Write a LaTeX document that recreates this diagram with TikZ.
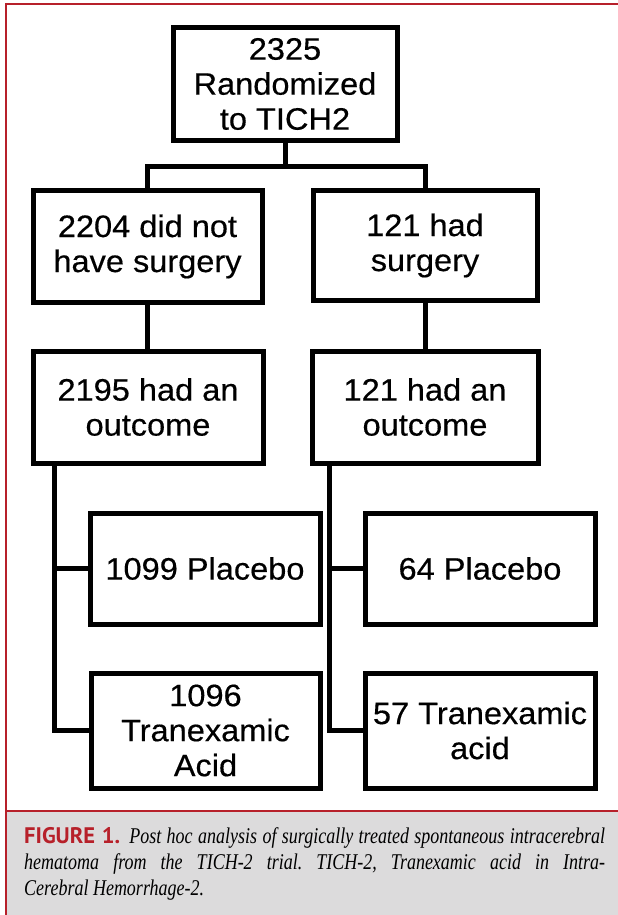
\documentclass[tikz,border=0pt]{standalone}
\usepackage{fontspec}
\setmainfont{Liberation Sans}
\newfontfamily\boxfont{Liberation Sans}[FakeStretch=1.05,FakeBold=0.4]
\newfontfamily\figfont{PT Sans}
\newfontfamily\capfont{Liberation Serif}[FakeStretch=0.8]
\definecolor{capred}{RGB}{183,32,42}
\definecolor{capgrey}{RGB}{220,219,220}
\begin{document}
\begin{tikzpicture}[x=1pt,y=-1pt,
  flowbox/.style={draw=black, line width=5pt, minimum width=229pt, minimum height=112pt,
    inner sep=2pt, align=center, font=\boxfont\fontsize{31}{35}\selectfont},
  link/.style={draw=black, line width=5pt}]
\useasboundingbox (0,0) rectangle (618,915);
\fill[white] (0,0) rectangle (618,915);
\fill[capgrey] (6,811) rectangle (618,915);
\draw[capred, line width=2.5pt] (6,915) -- (6,4) -- (618,4);
\draw[capred, line width=2.5pt] (6,811) -- (618,811);

\node[flowbox, minimum width=224pt] (top) at (285,84) {2325\\Randomized\\to TICH2};
\node[flowbox] (L1) at (147.5,246.5) {2204 did not\\have surgery};
\node[flowbox, minimum width=224pt, minimum height=110pt] (R1) at (425,245.5) {121 had\\surgery};
\node[flowbox, minimum width=230pt] (L2) at (148,407) {2195 had an\\outcome};
\node[flowbox, minimum width=226pt] (R2) at (425,407) {121 had an\\outcome};
\node[flowbox, minimum width=230pt, minimum height=111pt] (LP) at (205,568.5) {1099 Placebo};
\node[flowbox, minimum width=230pt, minimum height=111pt] (RP) at (480,568.5) {64 Placebo};
\node[flowbox, minimum height=115pt] (LT) at (205.5,730.5) {1096\\Tranexamic\\Acid};
\node[flowbox, minimum width=230pt, minimum height=115pt] (RT) at (480,730.5) {57 Tranexamic\\acid};

\coordinate (split) at (285,166);
\draw[link] (top.south) -- (split);
\draw[link] (L1.north) |- (split) -| (R1.north);
\draw[link] (L1.south) -- (L1.south |- L2.north);
\draw[link] (R1.south) -- (R1.south |- R2.north);
\coordinate (lv) at ([xshift=24pt]L2.south west);
\draw[link] (lv) |- (LT.west);
\draw[link] (lv |- LP.west) -- (LP.west);
\coordinate (rv) at ([xshift=20pt]R2.south west);
\draw[link] (rv) |- (RT.west);
\draw[link] (rv |- RP.west) -- (RP.west);

\node[anchor=base west, inner sep=0pt, text width=581pt, align=justify,
  font=\capfont\itshape\fontsize{22.5}{26}\selectfont] (cap) at (24,843)
  {\frenchspacing\hyphenpenalty=10000{\figfont\upshape\bfseries\color{capred}FIGURE 1.}\hspace{9pt}Post hoc analysis of surgically treated spontaneous intracerebral\linebreak hematoma from the TICH-2 trial. TICH-2, Tranexamic acid in Intra-\linebreak Cerebral Hemorrhage-2.};
\end{tikzpicture}
\end{document}
